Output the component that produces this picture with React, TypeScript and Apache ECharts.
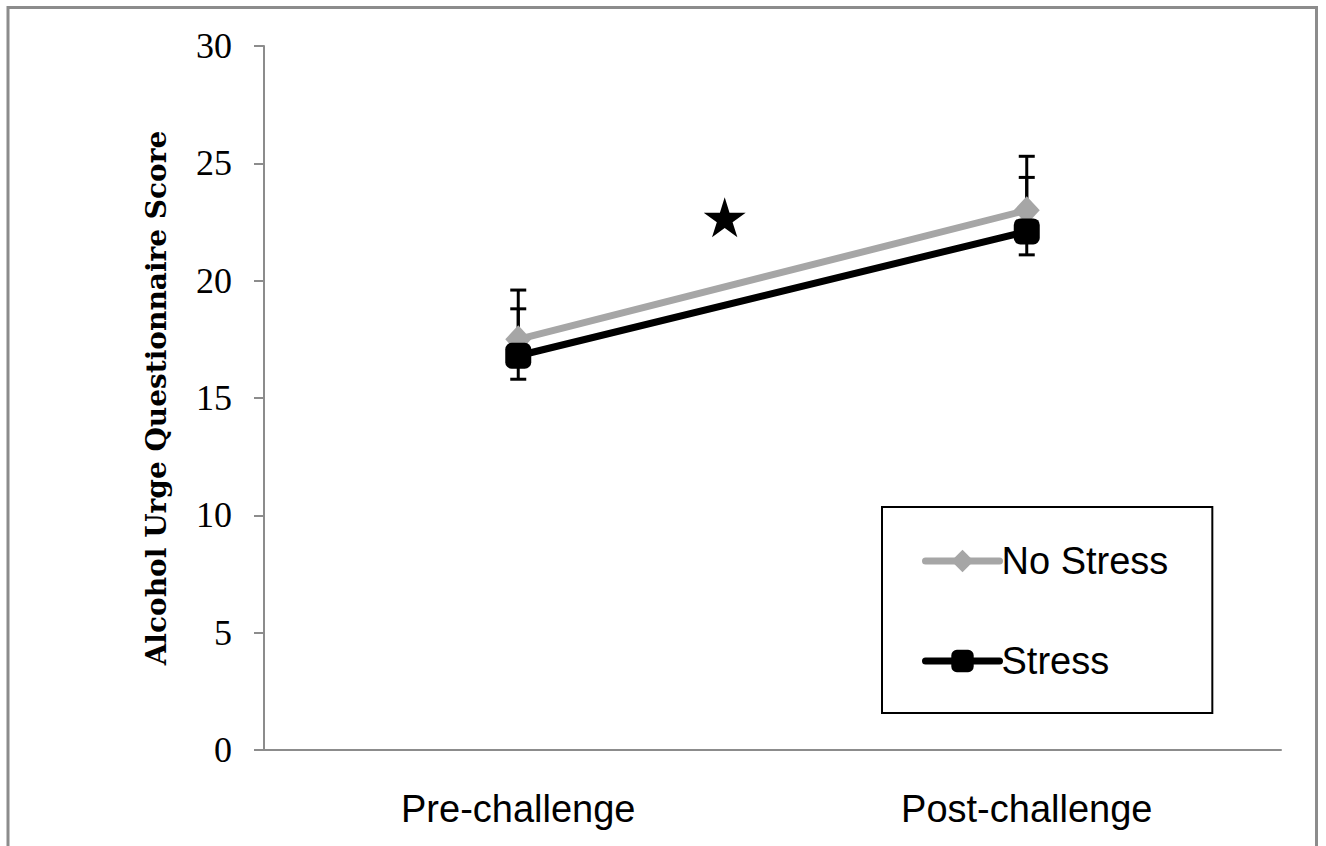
import React, { useEffect, useRef } from "react";
import * as echarts from "echarts";

const categories = ["Pre-challenge", "Post-challenge"];
const yTicks = [0, 5, 10, 15, 20, 25, 30];
const noStressMean = [17.5, 23.0];
const noStressUpper = [19.6, 25.3];
const stressMean = [16.8, 22.1];
const stressUpper = [18.8, 24.4];
const stressLower = [15.8, 21.1];
const starPoint = [0.906, 22.7];

const STAR = "path://M50,0 L61,35 L98,35 L68,57 L79,91 L50,70 L21,91 L32,57 L2,35 L39,35 Z";

export default function App() {
  const ref = useRef<HTMLDivElement>(null);
  useEffect(() => {
    if (!ref.current) return;
    const chart = echarts.init(ref.current, null, { renderer: "svg" });
    const errData: number[][] = [];
    categories.forEach((_, i) => {
      errData.push([i, noStressMean[i], noStressUpper[i]]);
      errData.push([i, stressMean[i], stressUpper[i]]);
      errData.push([i, stressMean[i], stressLower[i]]);
    });
    const sans = "'Liberation Sans', Arial, sans-serif";
    const serif = "'Liberation Serif', 'Times New Roman', serif";
    chart.setOption({
      animation: false,
      backgroundColor: "#fff",
      grid: { left: 264, right: 45, top: 46, bottom: 96 },
      graphic: [
        {
          type: "rect",
          shape: { x: 8, y: 7.5, width: 1308.5, height: 900 },
          style: { fill: "none", stroke: "#8c8c8c", lineWidth: 3 },
          z: 100,
        },
      ],
      legend: {
        data: ["No Stress", "Stress"],
        orient: "vertical",
        left: 882,
        top: 507,
        itemWidth: 74,
        itemHeight: 28,
        itemGap: 62,
        padding: [35, 44, 33, 40],
        borderColor: "#000",
        borderWidth: 2,
        lineStyle: { width: 7, cap: "round" },
        textStyle: { fontFamily: sans, fontSize: 38, color: "#000", padding: [0, 0, 0, -3] },
      },
      xAxis: [
        {
          type: "category",
          data: categories,
          axisLine: { lineStyle: { color: "#8c8c8c", width: 2 } },
          axisTick: { show: false },
          axisLabel: { fontFamily: sans, fontSize: 38, color: "#000", margin: 40 },
        },
        { type: "value", min: 0, max: 2, show: false },
      ],
      yAxis: {
        type: "value",
        min: 0,
        max: 30,
        interval: 5,
        splitLine: { show: false },
        axisLine: { show: true, lineStyle: { color: "#8c8c8c", width: 2 } },
        axisTick: { show: true, length: 10, lineStyle: { color: "#8c8c8c", width: 2 } },
        axisLabel: {
          fontFamily: serif,
          fontSize: 36,
          color: "#000",
          margin: 32,
          formatter: (v: number) => (yTicks.includes(v) ? String(v) : ""),
        },
        name: "Alcohol Urge Questionnaire Score",
        nameLocation: "middle",
        nameGap: 94,
        nameTextStyle: {
          fontFamily: "'DejaVu Serif', serif",
          fontSize: 28,
          fontWeight: "bold",
          color: "#000",
        },
      },
      series: [
        {
          type: "custom",
          name: "err",
          xAxisIndex: 0,
          data: errData,
          encode: { x: 0, y: [1, 2] },
          z: 1,
          renderItem: (params: any, api: any) => {
            const x = api.value(0);
            const p0 = api.coord([x, api.value(1)]);
            const p1 = api.coord([x, api.value(2)]);
            const st = { stroke: "#000", lineWidth: 3 };
            return {
              type: "group",
              children: [
                { type: "line", shape: { x1: p0[0], y1: p0[1], x2: p1[0], y2: p1[1] }, style: st },
                { type: "line", shape: { x1: p1[0] - 8, y1: p1[1], x2: p1[0] + 8, y2: p1[1] }, style: st },
              ],
            };
          },
        },
        {
          type: "line",
          name: "No Stress",
          data: noStressMean,
          symbol: "diamond",
          symbolSize: [26, 28],
          z: 3,
          lineStyle: { color: "#a6a6a6", width: 7, cap: "round" },
          itemStyle: { color: "#a6a6a6" },
        },
        {
          type: "line",
          name: "Stress",
          data: stressMean,
          symbol: "roundRect",
          symbolSize: 26,
          z: 4,
          lineStyle: { color: "#000", width: 7, cap: "round" },
          itemStyle: { color: "#000" },
        },
        {
          type: "scatter",
          name: "sig",
          xAxisIndex: 1,
          data: [starPoint],
          symbol: STAR,
          symbolSize: [42, 40],
          itemStyle: { color: "#000", opacity: 1 },
          z: 5,
        },
      ],
    });
    return () => chart.dispose();
  }, []);
  return (
    <div
      ref={ref}
      style={{ position: "fixed", left: 0, top: 0, width: 1326, height: 846 }}
    />
  );
}
